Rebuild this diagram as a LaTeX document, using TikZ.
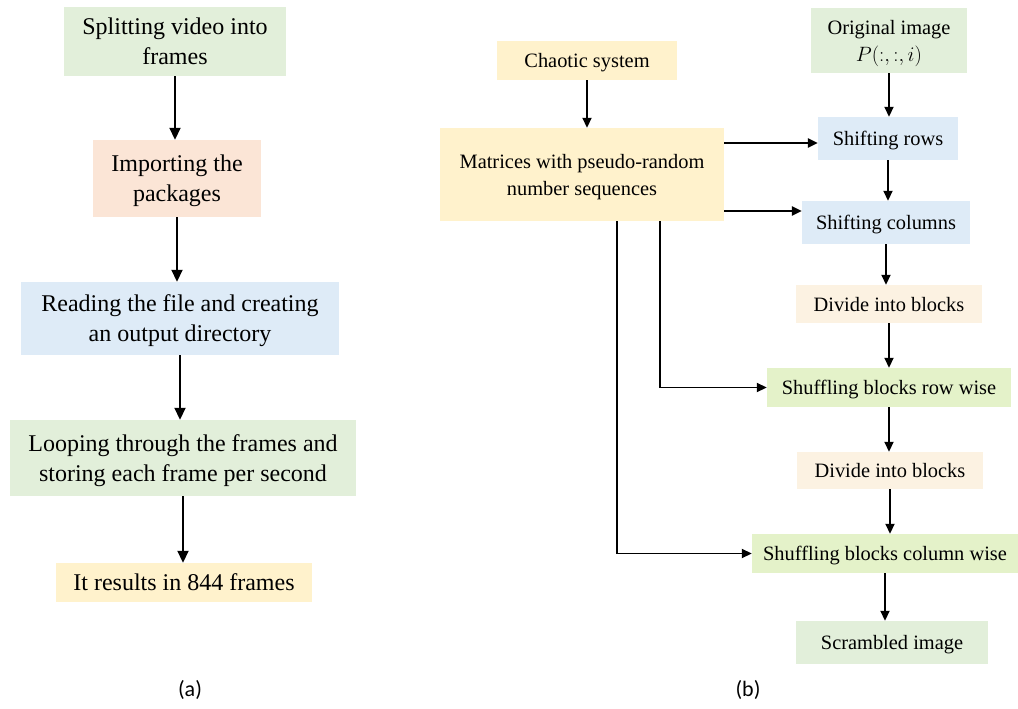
\documentclass[tikz,border=0pt]{standalone}
\usepackage{fontspec}
\setmainfont{Liberation Serif}
\newfontfamily\boxfont{Liberation Serif}
\newfontfamily\capfont{Carlito}
\usetikzlibrary{arrows.meta}
\definecolor{boxgreen}{HTML}{E2EFDA}
\definecolor{boxpeach}{HTML}{FBE5D6}
\definecolor{boxblue}{HTML}{DEEBF7}
\definecolor{boxyellow}{HTML}{FFF2CC}
\definecolor{boxbeige}{HTML}{FCF2E2}
\definecolor{boxlime}{HTML}{E4F2C9}
\tikzset{
  box/.style={inner sep=0pt,align=center,text depth=0pt},
  bigtext/.style={font=\boxfont\fontsize{24}{30}\selectfont},
  smalltext/.style={font=\boxfont\fontsize{20.4}{27}\selectfont},
  captext/.style={font=\capfont\fontsize{22}{26}\selectfont},
  arr/.style={-{Triangle[length=12pt,width=11pt]},line width=1.8pt},
  sarr/.style={-{Triangle[length=10pt,width=9pt]},line width=1.8pt}
}
\begin{document}
\begin{tikzpicture}[x=1pt,y=-1pt]
\useasboundingbox (0,0) rectangle (1018,709);
\node[box,bigtext,fill=boxgreen,minimum width=222,minimum height=69] (split) at (175,41.5) {Splitting video into\\frames};
\node[box,bigtext,fill=boxpeach,minimum width=168,minimum height=77] (import) at (177,178.5) {Importing the\\packages};
\node[box,bigtext,fill=boxblue,minimum width=318,minimum height=73] (read) at (180,318.5) {Reading the file and creating\\an output directory};
\node[box,bigtext,fill=boxgreen,minimum width=346,minimum height=76] (loop) at (183,458) {Looping through the frames and\\storing each frame per second};
\node[box,bigtext,fill=boxyellow,minimum width=256,minimum height=39] (result) at (184,582.5) {It results in 844 frames};
\draw[arr] (split.south) -- (split.south |- import.north);
\draw[arr] (import.south) -- (import.south |- read.north);
\draw[arr] (read.south) -- (read.south |- loop.north);
\draw[arr] (loop.south) -- (loop.south |- result.north);
\node[captext] (capa) at (190,690) {(a)};
\node[box,smalltext,fill=boxyellow,minimum width=180,minimum height=39] (chaos) at (587,60.5) {Chaotic system};
\node[box,smalltext,fill=boxgreen,minimum width=156,minimum height=65] (orig) at (889,40.5) {Original image\\$P(:,:,i)$};
\node[box,smalltext,fill=boxyellow,minimum width=284,minimum height=93] (matr) at (582,174.5) {Matrices with pseudo-random\\number sequences};
\node[box,smalltext,fill=boxblue,minimum width=140,minimum height=43] (rows) at (888,138.5) {Shifting rows};
\node[box,smalltext,fill=boxblue,minimum width=168,minimum height=43] (cols) at (886,222.5) {Shifting columns};
\node[box,smalltext,fill=boxbeige,minimum width=186,minimum height=38] (div1) at (889,304) {Divide into blocks};
\node[box,smalltext,fill=boxlime,minimum width=244,minimum height=39] (shufr) at (889,387.5) {Shuffling blocks row wise};
\node[box,smalltext,fill=boxbeige,minimum width=186,minimum height=37] (div2) at (890,470.5) {Divide into blocks};
\node[box,smalltext,fill=boxlime,minimum width=266,minimum height=39] (shufc) at (885,553.5) {Shuffling blocks column wise};
\node[box,smalltext,fill=boxgreen,minimum width=192,minimum height=43] (scram) at (892,642.5) {Scrambled image};
\coordinate (rowsin) at ([yshift=-4.5pt]rows.west);
\coordinate (colsin) at ([yshift=11.5pt]cols.west);
\draw[sarr] (chaos.south) -- (chaos.south |- matr.north);
\draw[sarr] (orig.south) -- (orig.south |- rows.north);
\draw[sarr] (rows.south) -- (rows.south |- cols.north);
\draw[sarr] (cols.south) -- (cols.south |- div1.north);
\draw[sarr] (div1.south) -- (div1.south |- shufr.north);
\draw[sarr] (shufr.south) -- (shufr.south |- div2.north);
\draw[sarr] (div2.south) -- (div2.south |- shufc.north);
\draw[sarr] (shufc.south) -- (shufc.south |- scram.north);
\draw[sarr,line width=2.6pt] (matr.east |- rowsin) -- (rowsin);
\draw[sarr,line width=2.6pt] (matr.east |- colsin) -- (colsin);
\draw[sarr] ([xshift=78pt]matr.south) |- (shufr.west);
\draw[sarr] ([xshift=35pt]matr.south) |- (shufc.west);
\node[captext] (capb) at (748,690) {(b)};
\end{tikzpicture}
\end{document}
